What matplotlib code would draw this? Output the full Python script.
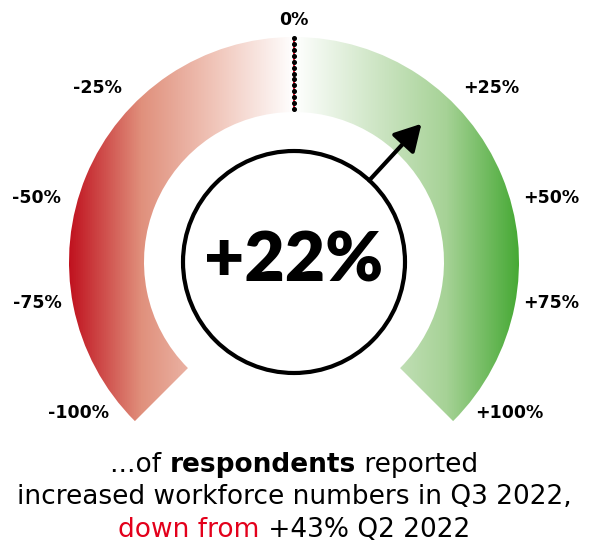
import matplotlib
matplotlib.use('Agg')
import matplotlib.pyplot as plt
import numpy as np
from matplotlib.patches import Wedge, Circle
from matplotlib.colors import LinearSegmentedColormap

plt.rcParams['font.family'] = ['DejaVu Sans']

# Datos
value = 22
previous = 43
tick_values = [-100, -75, -50, -25, 0, 25, 50, 75, 100]
tick_labels = ['-100%', '-75%', '-50%', '-25%', '0%', '+25%', '+50%', '+75%', '+100%']
# posicion de las etiquetas (grados desde arriba, sentido horario) y radio
tick_angles = [-125, -99, -76, -48.5, 0, 48.5, 76, 99, 125]
tick_radii = [263, 260, 265, 263, 242, 263, 265, 260, 263]

line1 = [('...of ', 'normal', 'black'), ('respondents', 'bold', 'black'), (' reported', 'normal', 'black')]
line2 = [('increased workforce numbers in Q3 2022,', 'normal', 'black')]
line3 = [('down from', 'normal', '#e3001b'), (f' +{previous}% Q2 2022', 'normal', 'black')]

red = '#c0121f'
green = '#47a935'

W, H = 589, 545
fig = plt.figure(figsize=(W / 100, H / 100), dpi=100)
ax = fig.add_axes([0, 0, 1, 1])
ax.set_xlim(0, W)
ax.set_ylim(0, H)
ax.axis('off')

cx, cy = 294, 283
r_out, r_in = 225, 150
r_circ = 111

# degradado horizontal rojo -> blanco -> verde
cmap = LinearSegmentedColormap.from_list('gauge', [
    (0.0, red), (0.16, '#e0907c'), (0.32, '#f0c4b8'), (0.5, '#ffffff'),
    (0.68, '#cfe6c6'), (0.84, '#a6d296'), (1.0, green)])
grad = np.linspace(0, 1, 512).reshape(1, -1)
im = ax.imshow(grad, cmap=cmap, aspect='auto',
               extent=[cx - r_out, cx + r_out, cy - r_out, cy + r_out], zorder=1)
ring = Wedge((cx, cy), r_out, -45, 225, width=r_out - r_in, transform=ax.transData,
             facecolor='none', edgecolor='none')
ax.add_patch(ring)
im.set_clip_path(ring)


def to_xy(angle_from_top, r):
    a = np.deg2rad(90 - angle_from_top)
    return cx + r * np.cos(a), cy + r * np.sin(a)


# escala de valores -> angulo
val_angle = np.interp(value, tick_values, tick_angles)

# linea punteada en 0%
rr = np.linspace(r_in + 3, r_out - 1, 13)
xs, ys = to_xy(0, rr)
ax.plot(xs, ys, color='#e3001b', lw=1.3, zorder=3)
ax.plot(xs, ys, 'o', color='black', ms=2.6, zorder=4)

# etiquetas
for lab, ang, r in zip(tick_labels, tick_angles, tick_radii):
    x, y = to_xy(ang, r)
    ax.text(x, y, lab, ha='center', va='center', fontsize=12.5, fontweight='bold', zorder=5)

# circulo central
ax.add_patch(Circle((cx, cy), r_circ, facecolor='white', edgecolor='black', lw=3, zorder=5))
ax.text(cx, cy, f'+{value}%', ha='center', va='center', fontsize=50,
        fontweight='heavy', family=['Lato', 'DejaVu Sans'], zorder=6)

# flecha
x0, y0 = to_xy(val_angle, r_circ)
x1, y1 = to_xy(val_angle, 188)
ax.annotate('', xy=(x1, y1), xytext=(x0, y0),
            arrowprops=dict(arrowstyle='-|>,head_length=0.8,head_width=0.45',
                            lw=3, color='black', mutation_scale=20,
                            shrinkA=0, shrinkB=0), zorder=6)

# texto inferior con estilos mezclados
renderer = fig.canvas.get_renderer()


def rich_line(parts, y, size=19):
    texts = []
    for s, w, c in parts:
        t = ax.text(0, y, s, fontsize=size, fontweight=w, color=c, va='center', ha='left')
        texts.append(t)
    widths = [t.get_window_extent(renderer).width for t in texts]
    x = cx - sum(widths) / 2
    for t, wd in zip(texts, widths):
        t.set_x(x)
        x += wd


rich_line(line1, 80)
rich_line(line2, 48)
rich_line(line3, 15)

fig.savefig('out.png', dpi=100)
plt.close()
